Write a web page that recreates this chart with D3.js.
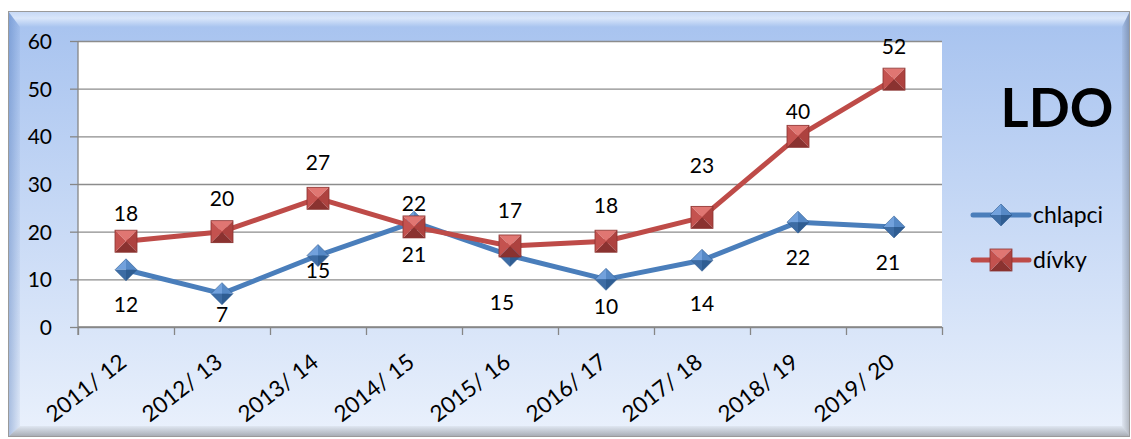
<!DOCTYPE html>
<html lang="cs">
<head>
<meta charset="UTF-8">
<title>LDO</title>
<script src="https://cdn.jsdelivr.net/npm/d3@7"></script>
<style>
  body { margin: 0; background: #fff; }
  text { font-family: Lato, "Open Sans", sans-serif; fill: #000; }
</style>
</head>
<body>
<div id="chart"></div>
<script>
var categories = ["2011/ 12", "2012/ 13", "2013/ 14", "2014/ 15", "2015/ 16",
                  "2016/ 17", "2017/ 18", "2018/ 19", "2019/ 20"];
var chlapci = [12, 7, 15, 22, 15, 10, 14, 22, 21];
var divky   = [18, 20, 27, 21, 17, 18, 23, 40, 52];
var yTicks  = [0, 10, 20, 30, 40, 50, 60];

// posuny popisku (px) – v originale rucne posunute
var chlapciLabelPos = [[0, 35], [0, 21], [0, 15], [0, -19], [-8, 47], [0, 27], [0, 43], [0, 35], [-6, 36]];
var divkyLabelPos   = [[0, -28], [0, -33], [0, -36], [0, 28], [0, -36], [0, -36], [0, -52], [0, -25], [0, -33]];

var width = 1131, height = 439;
var plot = {left: 78, right: 942, top: 41, bottom: 327};

var svg = d3.select("#chart").append("svg")
    .attr("width", width)
    .attr("height", height);

var defs = svg.append("defs");
var bg = defs.append("linearGradient").attr("id", "bg")
    .attr("x1", 0).attr("y1", 0).attr("x2", 0).attr("y2", 1);
bg.append("stop").attr("offset", "0%").attr("stop-color", "#a6c2ef");
bg.append("stop").attr("offset", "100%").attr("stop-color", "#eaf1fc");

var topG = defs.append("linearGradient").attr("id", "bevTop")
    .attr("x1", 0).attr("y1", 0).attr("x2", 0).attr("y2", 1);
topG.append("stop").attr("offset", "0%").attr("stop-color", "#c4d7f5");
topG.append("stop").attr("offset", "45%").attr("stop-color", "#d9e6fa");
topG.append("stop").attr("offset", "100%").attr("stop-color", "#a9c4ef");

var leftG = defs.append("linearGradient").attr("id", "bevLeft")
    .attr("x1", 0).attr("y1", 0).attr("x2", 1).attr("y2", 0);
leftG.append("stop").attr("offset", "0%").attr("stop-color", "#2a5aa8").attr("stop-opacity", 0.35);
leftG.append("stop").attr("offset", "100%").attr("stop-color", "#2a5aa8").attr("stop-opacity", 0.06);

var botG = defs.append("linearGradient").attr("id", "bevBot")
    .attr("x1", 0).attr("y1", 0).attr("x2", 0).attr("y2", 1);
botG.append("stop").attr("offset", "0%").attr("stop-color", "#000").attr("stop-opacity", 0.04);
botG.append("stop").attr("offset", "100%").attr("stop-color", "#000").attr("stop-opacity", 0.3);

var rightG = defs.append("linearGradient").attr("id", "bevRight")
    .attr("x1", 0).attr("y1", 0).attr("x2", 1).attr("y2", 0);
rightG.append("stop").attr("offset", "0%").attr("stop-color", "#000").attr("stop-opacity", 0.04);
rightG.append("stop").attr("offset", "100%").attr("stop-color", "#000").attr("stop-opacity", 0.25);

// ramecek grafu s efektem zkoseni
var fx0 = 8, fy0 = 11, fx1 = 1130, fy1 = 437;
svg.append("rect")
    .attr("x", fx0).attr("y", fy0)
    .attr("width", fx1 - fx0).attr("height", fy1 - fy0)
    .attr("fill", "url(#bg)");

var bev = [
  {pts: [[fx0, fy0], [fx1, fy0], [fx1 - 8, fy0 + 16], [fx0 + 12, fy0 + 16]], fill: "url(#bevTop)"},
  {pts: [[fx0, fy0], [fx0 + 12, fy0 + 16], [fx0 + 12, fy1 - 11], [fx0, fy1]], fill: "url(#bevLeft)"},
  {pts: [[fx0, fy1], [fx0 + 12, fy1 - 11], [fx1 - 8, fy1 - 11], [fx1, fy1]], fill: "url(#bevBot)"},
  {pts: [[fx1, fy0], [fx1, fy1], [fx1 - 8, fy1 - 11], [fx1 - 8, fy0 + 16]], fill: "url(#bevRight)"}
];
svg.selectAll(".bev").data(bev).enter().append("polygon")
    .attr("class", "bev")
    .attr("points", function (d) { return d.pts.map(function (p) { return p.join(","); }).join(" "); })
    .attr("fill", function (d) { return d.fill; });

svg.append("rect")
    .attr("x", fx0 + 0.5).attr("y", fy0 + 0.5)
    .attr("width", fx1 - fx0 - 1).attr("height", fy1 - fy0 - 1)
    .attr("fill", "none").attr("stroke", "#9a9a9a").attr("stroke-width", 1);

// plocha grafu
svg.append("rect")
    .attr("x", plot.left).attr("y", plot.top)
    .attr("width", plot.right - plot.left).attr("height", plot.bottom - plot.top)
    .attr("fill", "#fff");

var x = d3.scaleBand().domain(categories).range([plot.left, plot.right]);
var xEdge = d3.scaleLinear().domain([0, categories.length]).range([plot.left, plot.right]);
var y = d3.scaleLinear().domain([0, 60]).range([plot.bottom, plot.top]);
function cx(i) { return x(categories[i]) + x.bandwidth() / 2; }

// mrizka
var grid = svg.append("g")
    .attr("transform", "translate(" + plot.left + ",0)")
    .call(d3.axisLeft(y).tickValues(yTicks).tickSize(-(plot.right - plot.left)).tickFormat(""));
grid.select(".domain").remove();
grid.selectAll("line").attr("stroke", "#8c8c8c").attr("stroke-width", 1.3);

// osa y
var yAxis = svg.append("g")
    .attr("transform", "translate(" + plot.left + ",0)")
    .call(d3.axisLeft(y).tickValues(yTicks).tickSize(8).tickPadding(18));
yAxis.select(".domain").attr("stroke", "#868686").attr("stroke-width", 1.3)
    .attr("d", "M0," + plot.top + "V" + (plot.bottom + 8));
yAxis.selectAll("line").attr("stroke", "#868686").attr("stroke-width", 1.3);
yAxis.selectAll("text").style("font-size", "21px").attr("dy", "0.36em");

// osa x
var xAxis = svg.append("g")
    .attr("transform", "translate(0," + plot.bottom + ")")
    .call(d3.axisBottom(xEdge).tickValues(d3.range(categories.length + 1)).tickSize(8).tickFormat(""));
xAxis.select(".domain").attr("stroke", "#868686").attr("stroke-width", 1.3)
    .attr("d", "M" + plot.left + ",0H" + plot.right);
xAxis.selectAll("line").attr("stroke", "#868686").attr("stroke-width", 1.3);

svg.append("g").selectAll("text")
    .data(categories).enter().append("text")
    .attr("text-anchor", "end")
    .attr("transform", function (d) {
        return "translate(" + (x(d) + x.bandwidth() / 2 + 2) + ",365) rotate(-38)";
    })
    .style("font-size", "22.5px")
    .text(function (d) { return d; });

// znacky
function squareMarker(g, h) {
    var faces = [
        {p: [[-h, -h], [h, -h], [0, 0]], c: "#e07672"},
        {p: [[h, -h], [h, h], [0, 0]], c: "#ad423f"},
        {p: [[h, h], [-h, h], [0, 0]], c: "#8a3230"},
        {p: [[-h, h], [-h, -h], [0, 0]], c: "#c4524f"}
    ];
    faces.forEach(function (f) {
        g.append("polygon").attr("points", f.p.join(" ")).attr("fill", f.c);
    });
    g.append("rect").attr("x", -h).attr("y", -h).attr("width", 2 * h).attr("height", 2 * h)
        .attr("fill", "none").attr("stroke", "#8a3230").attr("stroke-width", 0.8);
}
function diamondMarker(g, h) {
    var faces = [
        {p: [[-h, 0], [0, -h], [0, 0]], c: "#72a1dc"},
        {p: [[0, -h], [h, 0], [0, 0]], c: "#5689c6"},
        {p: [[h, 0], [0, h], [0, 0]], c: "#2f5d92"},
        {p: [[0, h], [-h, 0], [0, 0]], c: "#3d6ca4"}
    ];
    faces.forEach(function (f) {
        g.append("polygon").attr("points", f.p.join(" ")).attr("fill", f.c);
    });
    g.append("polygon").attr("points", [[-h, 0], [0, -h], [h, 0], [0, h]].join(" "))
        .attr("fill", "none").attr("stroke", "#2f5d92").attr("stroke-width", 0.6);
}

var series = [
    {name: "chlapci", values: chlapci, color: "#4a7ebb", marker: diamondMarker, labels: chlapciLabelPos},
    {name: "dívky", values: divky, color: "#be4b48", marker: squareMarker, labels: divkyLabelPos}
];

var line = d3.line()
    .x(function (d, i) { return cx(i); })
    .y(function (d) { return y(d); });

series.forEach(function (s) {
    svg.append("path")
        .datum(s.values)
        .attr("d", line)
        .attr("fill", "none")
        .attr("stroke", s.color)
        .attr("stroke-width", 5)
        .attr("stroke-linejoin", "round");
    svg.append("g").selectAll("g")
        .data(s.values).enter().append("g")
        .attr("transform", function (d, i) { return "translate(" + cx(i) + "," + y(d) + ")"; })
        .each(function () { s.marker(d3.select(this), 11); });
});

// popisky dat
series.forEach(function (s) {
    svg.append("g").selectAll("text")
        .data(s.values).enter().append("text")
        .attr("x", function (d, i) { return cx(i) + s.labels[i][0]; })
        .attr("y", function (d, i) { return y(d) + s.labels[i][1]; })
        .attr("dy", "0.36em")
        .attr("text-anchor", "middle")
        .style("font-size", "21px")
        .text(function (d) { return d; });
});

// nadpis
svg.append("text")
    .attr("x", 1057).attr("y", 127)
    .attr("text-anchor", "middle")
    .style("font-size", "54px")
    .style("font-weight", "bold")
    .text("LDO");

// legenda
var legend = svg.append("g").selectAll("g")
    .data(series).enter().append("g")
    .attr("transform", function (d, i) { return "translate(973," + (215 + i * 45) + ")"; });
legend.append("line")
    .attr("x1", 0).attr("x2", 56).attr("y1", 0).attr("y2", 0)
    .attr("stroke", function (d) { return d.color; })
    .attr("stroke-width", 5)
    .attr("stroke-linecap", "round");
legend.append("g")
    .attr("transform", "translate(28,0)")
    .each(function (d) { d.marker(d3.select(this), 11); });
legend.append("text")
    .attr("x", 60).attr("dy", "0.36em")
    .style("font-size", "23px")
    .text(function (d) { return d.name; });
</script>
</body>
</html>
